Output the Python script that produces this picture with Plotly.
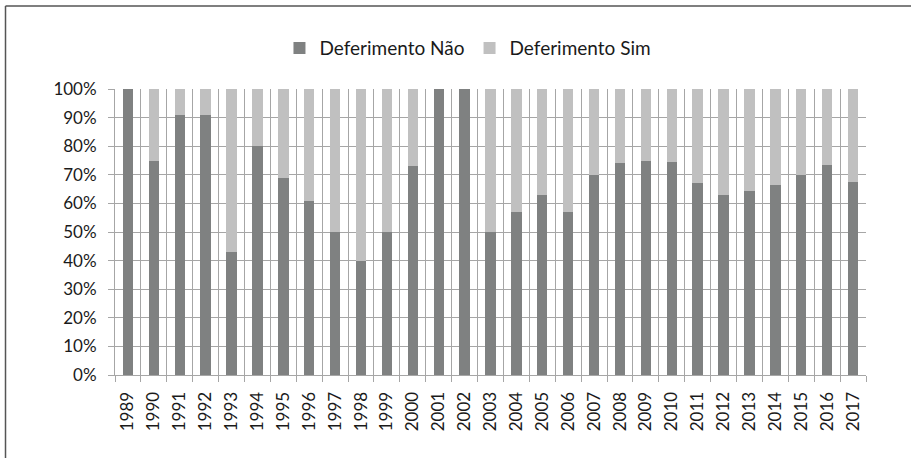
import plotly.graph_objects as go

years = [str(y) for y in range(1989, 2018)]
nao = [100, 75, 91, 91, 43, 80, 69, 61, 50, 40, 50, 73, 100, 100, 50, 57, 63, 57, 70,
       74, 75, 74.5, 67, 63, 64.5, 66.5, 70, 73.5, 67.5]
sim = [100 - v for v in nao]

dark = "#7f8181"
light = "#c0c0c0"
grid = "#a6a6a6"
font = "Lato, 'Open Sans', sans-serif"

fig = go.Figure()
fig.add_trace(go.Bar(x=years, y=nao, name="Deferimento Não", marker=dict(color=dark, line=dict(width=0))))
fig.add_trace(go.Bar(x=years, y=sim, name="Deferimento Sim", marker=dict(color=light, line=dict(width=0))))

fig.update_layout(
    barmode="stack",
    bargap=0.6,
    width=911, height=458,
    margin=dict(l=115, r=45, t=89, b=83),
    paper_bgcolor="white", plot_bgcolor="white",
    font=dict(family=font, size=17, color="#1a1a1a"),
    legend=dict(orientation="h", x=0.47, xanchor="center", y=1.143, yanchor="middle",
                font=dict(size=19, color="#1a1a1a"), itemwidth=30, traceorder="normal"),
    xaxis=dict(type="category", tickangle=-90, showline=True, linecolor=grid, linewidth=1,
               ticks="outside", tickson="boundaries", ticklen=6, tickcolor=grid,
               showgrid=True, gridcolor=grid, gridwidth=1, tickfont=dict(size=17),
               ticklabelstandoff=9),
    yaxis=dict(range=[0, 100], tickvals=list(range(0, 101, 10)),
               ticktext=[f"{v}%" for v in range(0, 101, 10)],
               showline=True, linecolor=grid, linewidth=1, ticks="outside", ticklen=6,
               tickcolor=grid, showgrid=True, gridcolor=grid, gridwidth=1,
               tickfont=dict(size=17), zeroline=False, ticklabelstandoff=8),
    shapes=[
        dict(type="line", xref="paper", yref="paper", x0=-0.1458, x1=1.2, y0=1.29, y1=1.29,
             line=dict(color="#555555", width=1.5)),
        dict(type="line", xref="paper", yref="paper", x0=-0.1458, x1=-0.1458, y0=-0.5, y1=1.29,
             line=dict(color="#555555", width=1.5)),
    ],
)

fig.write_html("out.html", config={"displayModeBar": False},
               post_script="document.body.style.margin='0';")
